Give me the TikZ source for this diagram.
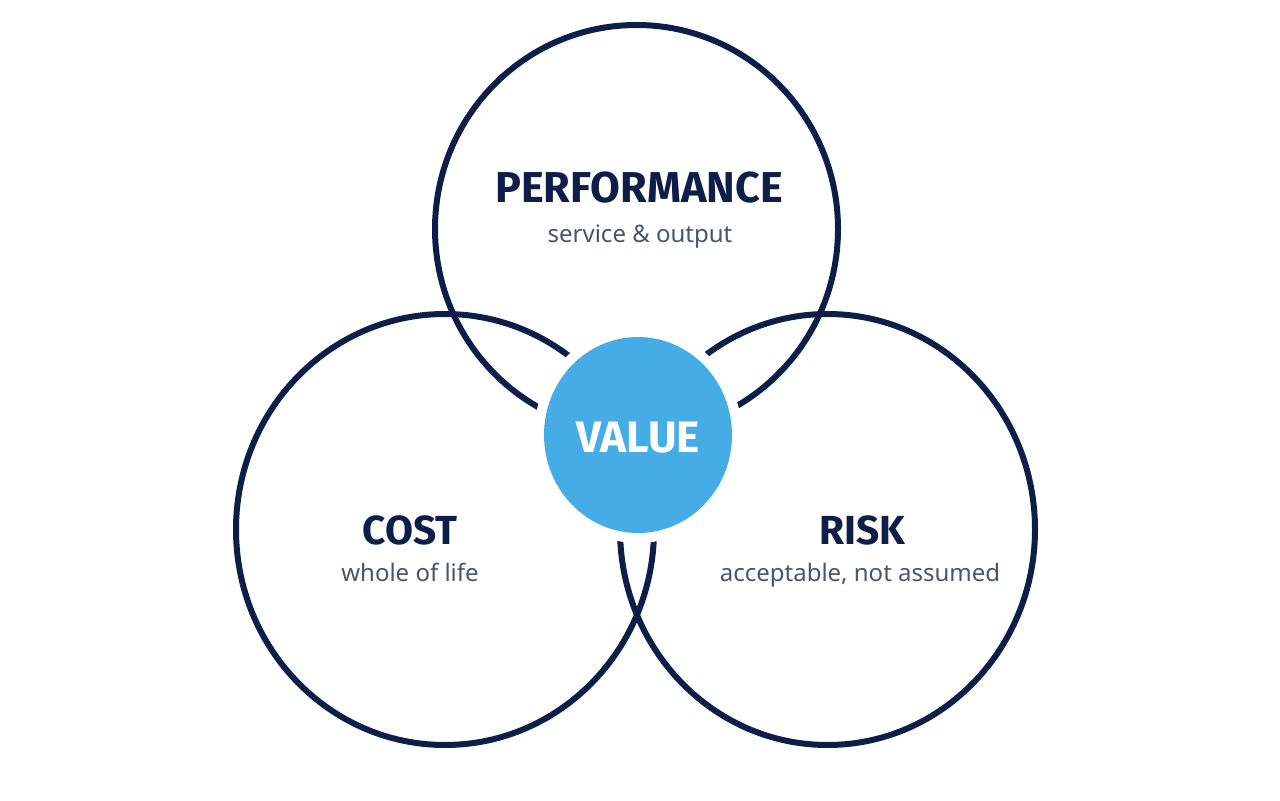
\documentclass[tikz,border=0pt]{standalone}
\usepackage{fontspec}
\setmainfont{Noto Sans}
\newfontfamily\headfont{Fira Sans}[UprightFont=* Bold]
\usetikzlibrary{shapes.geometric}
\definecolor{navy}{HTML}{0E1E48}
\definecolor{valblue}{HTML}{45ACE6}
\definecolor{subgray}{HTML}{4A5568}
\tikzset{
  ring/.style={draw=navy, line width=3pt},
  title/.style={font=\headfont\fontsize{20.3}{24}\selectfont, text=navy, anchor=base, inner sep=0pt},
  sub/.style={font=\fontsize{12}{15}\selectfont, text=subgray, anchor=base, inner sep=0pt},
}
\begin{document}
\begin{tikzpicture}[x=0.5pt, y=-0.5pt]
\useasboundingbox[fill=white] (0,0) rectangle (1280,801);
% rings
\draw[ring] (636.5,229) ellipse [x radius=201.5, y radius=204];
\draw[ring] (445,529.5) ellipse [x radius=209, y radius=215.5];
\draw[ring] (827.5,529.5) ellipse [x radius=207.5, y radius=215.5];
% gap + value
\fill[white] (638,435) ellipse [x radius=104, y radius=108];
\node[ellipse, fill=valblue, minimum width=94pt, minimum height=98pt, inner sep=0pt] (value) at (638,435) {};
\node[title, text=white, font=\headfont\fontsize{22}{26}\selectfont] (vl) at (638,453) {VALUE};
% labels
\node[title, font=\headfont\fontsize{21.6}{26}\selectfont] (perf) at (639,203) {PERFORMANCE};
\node[sub] (perfs) at (640,243) {service \& output};
\node[title] (cost) at (410,545) {COST};
\node[sub] (costs) at (410,582) {whole of life};
\node[title] (risk) at (862,545) {RISK};
\node[sub] (risks) at (860,582) {acceptable, not assumed};
\end{tikzpicture}
\end{document}
